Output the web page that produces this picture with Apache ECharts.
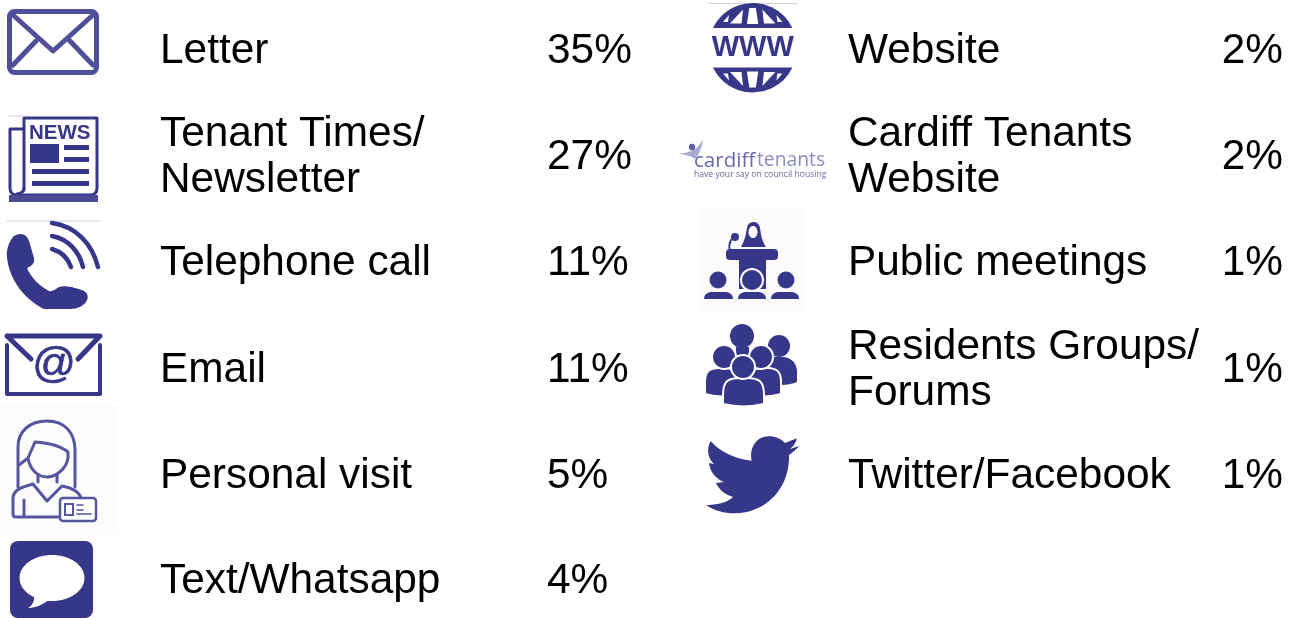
<!DOCTYPE html>
<html>
  <head>
    <meta charset="utf-8" />
    <title>Contact methods</title>
    <script src="https://cdn.jsdelivr.net/npm/echarts@6/dist/echarts.min.js"></script>
    <style>
      html, body { margin: 0; height: 100%; background: #fff; }
      #main { width: 1298px; height: 618px; }
    </style>
  </head>
  <body>
    <div id="main"></div>
    <script type="text/javascript">
      var leftLabels = ["Letter", "Tenant Times/\nNewsletter", "Telephone call", "Email", "Personal visit", "Text/Whatsapp"];
      var leftValues = [35, 27, 11, 11, 5, 4];
      var rightLabels = ["Website", "Cardiff Tenants\nWebsite", "Public meetings", "Residents Groups/\nForums", "Twitter/Facebook"];
      var rightValues = [2, 2, 1, 1, 1];

      var rowY = [51, 157, 263, 370, 476, 581];
      var FONT = '"Liberation Sans", Arial, sans-serif';
      var NAVY = "#37378a";
      var SOFT = "#50509a";

      var myChart = echarts.init(document.getElementById("main"));
      var els = [];

      function label(x, y, text, align) {
        els.push({
          type: "text", x: x, y: y,
          style: { text: text, font: "42.4px " + FONT, fill: "#000", align: align || "left", verticalAlign: "middle", lineHeight: 46 }
        });
      }
      function fill(d, color) {
        els.push({ type: "path", shape: { pathData: d }, style: { fill: color || NAVY, stroke: null } });
      }
      function line(d, w, color) {
        els.push({ type: "path", shape: { pathData: d }, style: { fill: null, stroke: color || NAVY, lineWidth: w, lineCap: "round", lineJoin: "round" } });
      }
      function rect(x, y, w, h, color, r) {
        els.push({ type: "rect", shape: { x: x, y: y, width: w, height: h, r: r || 0 }, style: { fill: color || NAVY } });
      }
      function circle(x, y, r, color, stroke, sw) {
        els.push({ type: "circle", shape: { cx: x, cy: y, r: r }, style: { fill: color || NAVY, stroke: stroke || null, lineWidth: sw || 0 } });
      }
      function word(x, y, text, font, color, align) {
        els.push({ type: "text", x: x, y: y, style: { text: text, font: font, fill: color, align: align || "left", verticalAlign: "middle" } });
      }

      // left column icons
      function letterIcon() {
        els.push({ type: "rect", shape: { x: 9.5, y: 11.5, width: 87, height: 61, r: 5 }, style: { fill: null, stroke: SOFT, lineWidth: 5 } });
        line("M13,15 L53,51 L93,15", 5, SOFT);
        line("M36,41 L13,65 M69,40 L93,65", 5, SOFT);
      }
      function newsIcon() {
        line("M9,116 H23", 1, "#d0d0e4");
        line("M24,190 V118 H97 V188 Q97,195 90,195 H17 Q10,195 10,188 V129 H24", 3);
        line("M24,188 Q24,193 17,194", 3);
        rect(9, 195, 89, 7, "#4a4a93");
        word(29, 133, "NEWS", "900 20.5px " + FONT, NAVY);
        rect(30, 144, 29, 19);
        rect(64, 145, 25, 5);
        rect(64, 157, 25, 5);
        rect(32, 169, 57, 5);
        rect(32, 181, 57, 5);
      }
      function phoneIcon() {
        line("M7,221 H100", 1, "#d0d0e4");
        fill("M14,236 C20,232 27,234 29,241 L34,258 C35,263 32,266 27,268 C31,278 40,286 49,291 C53,292 55,289 59,287 C65,285 77,288 84,291 C88,293 89,298 86,302 C83,306 78,309 70,309 H44 C26,300 10,282 7,258 C6,250 9,241 14,236 Z");
        line("M52,249 C62,252 68,258 71,267", 4.5);
        line("M52,236 C68,239 79,251 83,267", 4.5);
        line("M52,223 C75,226 92,243 98,267", 4.5);
      }
      function emailIcon() {
        line("M7,345 V394 H100 V345", 4);
        line("M7,336 H100 L78,359 M7,336 L31,359", 5);
        els.push({ type: "text", x: 54, y: 365, style: { text: "@", font: "43px " + FONT, fill: NAVY, stroke: NAVY, lineWidth: 0.7, align: "center", verticalAlign: "middle" } });
      }
      function visitIcon() {
        rect(0, 405, 118, 130, "#fcfcfc");
        var s = "#5555a0";
        line("M18,487 V447 C18,431 30,421 47,421 C64,421 75,432 75,450 V487", 3, s);
        line("M19,465 L28,458 L35,442 C50,443 62,447 68,452 V458 C66,470 55,477 47,477 C38,477 30,470 28,458", 3, s);
        line("M38,475 V482 M57,475 V482", 3, s);
        line("M60,517 H16 Q13,517 13,514 V498 C13,490 22,487 33,484 L47,501 L62,486 C72,488 79,491 81,498", 3, s);
        line("M24,500 V516", 3, s);
        els.push({ type: "rect", shape: { x: 60, y: 498, width: 36, height: 23, r: 3 }, style: { fill: "#fff", stroke: s, lineWidth: 2.5 } });
        els.push({ type: "rect", shape: { x: 65, y: 504, width: 8, height: 11 }, style: { fill: "#fff", stroke: s, lineWidth: 2 } });
        line("M77,505 H83 M77,510 H83 M77,514 H91", 1.6, s);
      }
      function textIcon() {
        rect(10, 541, 83, 77, NAVY, 8);
        els.push({ type: "ellipse", shape: { cx: 52, cy: 578, rx: 32.5, ry: 23 }, style: { fill: "#fff" } });
        fill("M34,594 C35,600 33,605 28,608 C36,608 44,604 50,599 Z", "#fff");
      }

      // right column icons
      function wwwIcon() {
        var cx = 752.7, cy = 47.7;
        line("M709,3.5 H797", 1, "#d0d0e4");
        fill("M713,28 A44,44 0 0 1 792.4,28 Z");
        fill("M713,67.4 A44,44 0 0 0 792.4,67.4 Z");
        var holes = [
          [[749.3, 8], [755.8, 8], [758.3, 24], [746.9, 24]],
          [[743, 9.5], [741.5, 23.5], [730, 23.5]],
          [[762.4, 9.5], [763.9, 23.5], [775.4, 23.5]],
          [[723, 22], [729, 15], [728, 22]],
          [[782.4, 22], [776.4, 15], [777.4, 22]]
        ];
        holes.forEach(function (h) {
          fill("M" + h.map(function (p) { return p[0] + "," + p[1]; }).join(" L") + " Z", "#fff");
          fill("M" + h.map(function (p) { return p[0] + "," + (2 * cy - p[1]); }).join(" L") + " Z", "#fff");
        });
        word(cx, 48, "WWW", "bold 29px " + FONT, NAVY, "center");
      }
      function cardiffIcon() {
        fill("M677,153 C687,154 697,151 703,139 C702,147 700,153 695,159 C691,156 686,155 677,153 Z", "#a9a9cf");
        circle(692, 147, 3.2, "#5f5fa3");
        word(694, 161, "cardiff", '20.6px "Open Sans", sans-serif', "#6a6aa8");
        word(757, 161, "tenants", '19.3px "Open Sans", sans-serif', "#8c8cc0");
        word(694, 175, "have your say on council housing", '8.6px "Open Sans", sans-serif', "#6a6aa8");
      }
      function meetingIcon() {
        rect(701, 208, 103, 103, "#fbfbfb");
        fill("M741,247 C746,238 746,232 747,228 C748,220 759,220 760,228 C761,234 761,239 766,247 Z");
        els.push({ type: "ellipse", shape: { cx: 753, cy: 232, rx: 4.5, ry: 6 }, style: { fill: "#fff" } });
        circle(735, 237, 4);
        line("M731,240 C729,244 729,248 730,251", 2);
        rect(726, 249, 52, 11, NAVY, 4);
        rect(739, 258, 27, 31);
        circle(752, 280, 11, NAVY, "#fff", 2);
        circle(718, 280, 8.5);
        circle(786, 280, 8.5);
        fill("M704,299 C704,294 708,292 712,292 H725 C729,292 733,294 733,299 Z");
        fill("M738,299 C738,294 742,292 746,292 H758 C762,292 766,294 766,299 Z");
        fill("M771,299 C771,294 775,292 779,292 H791 C795,292 799,294 799,299 Z");
      }
      function groupIcon() {
        var outline = { fill: NAVY, stroke: "#fff", lineWidth: 2 };
        circle(742, 336, 12);
        rect(736, 347, 13, 8);
        circle(779, 346, 11);
        fill("M760,357 H782 C792,357 797,364 797,372 V382 Q790,385 781,385 L770,375 Z");
        function body(x1, x2, y1, y2) {
          var r = (x2 - x1) / 2.4;
          els.push({
            type: "path",
            shape: { pathData: "M" + x1 + "," + y2 + " V" + (y1 + r) + " C" + x1 + "," + (y1 + 3) + " " + (x1 + 5) + "," + y1 + " " + (x1 + r) + "," + y1 +
              " H" + (x2 - r) + " C" + (x2 - 5) + "," + y1 + " " + x2 + "," + (y1 + 3) + " " + x2 + "," + (y1 + r) + " V" + y2 + " Q" + ((x1 + x2) / 2) + "," + (y2 + 5) + " " + x1 + "," + y2 + " Z" },
            style: outline
          });
        }
        body(705, 738, 368, 394);
        body(749, 781, 368, 394);
        els.push({ type: "circle", shape: { cx: 724, cy: 357, r: 12 }, style: outline });
        els.push({ type: "circle", shape: { cx: 761, cy: 357, r: 12 }, style: outline });
        body(723, 764, 378, 404);
        els.push({ type: "circle", shape: { cx: 743, cy: 367, r: 12 }, style: outline });
      }
      function twitterIcon() {
        fill("M796.7,438.3 L785,443 C778,436 770,436 767,436.5 C757,437 749,447 751.7,460.7 C735,459 720,452 710.7,441 C706,450 708,458 714,464 L709,463 C710,472 716,479 724,482 L716,483 C719,490 726,495 733,497 C727,503 716,505 706,505 C716,512 728,514 740,513 C770,510 790,485 789,455 C793,452 797,449 799,446 L790,449 C793,447 796,443 796.7,438.3 Z");
      }

      [letterIcon, newsIcon, phoneIcon, emailIcon, visitIcon, textIcon,
       wwwIcon, cardiffIcon, meetingIcon, groupIcon, twitterIcon].forEach(function (f) { f(); });

      leftLabels.forEach(function (t, i) {
        label(160, rowY[i], t);
        label(547, rowY[i], leftValues[i] + "%");
      });
      rightLabels.forEach(function (t, i) {
        label(848, rowY[i], t);
        label(1283, rowY[i], rightValues[i] + "%", "right");
      });

      // graphic component has no path type, so the whole sheet goes through a custom series
      myChart.setOption({
        animation: false,
        series: [{
          type: "custom",
          coordinateSystem: "none",
          silent: true,
          data: [0],
          renderItem: function () {
            return { type: "group", children: els };
          }
        }]
      });
    </script>
  </body>
</html>
